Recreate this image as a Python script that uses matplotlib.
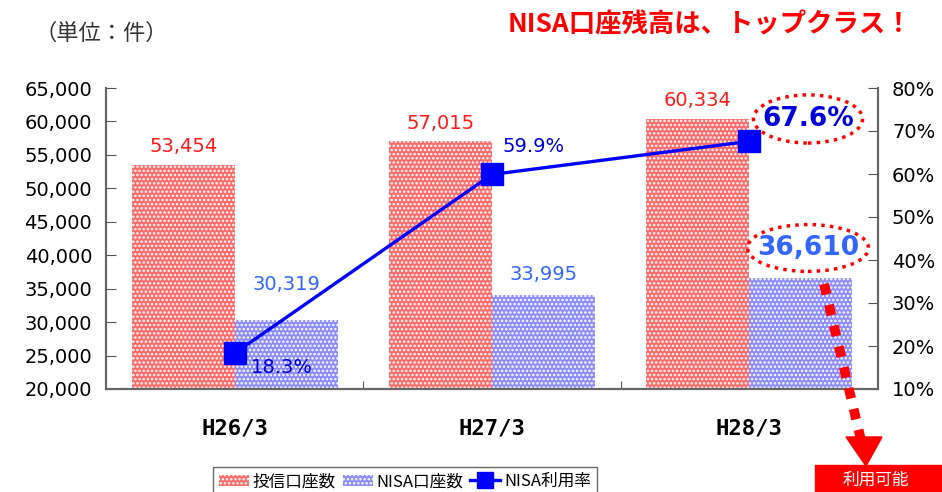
import matplotlib
matplotlib.use("Agg")
import matplotlib.pyplot as plt
import numpy as np
from matplotlib.patches import Ellipse, Rectangle, Polygon, Patch
from matplotlib.lines import Line2D

plt.rcParams['font.family'] = ['Noto Sans CJK JP', 'DejaVu Sans']
plt.rcParams['hatch.linewidth'] = 1.2
plt.rcParams['hatch.color'] = 'white'

categories = ["H26/3", "H27/3", "H28/3"]
toushin = [53454, 57015, 60334]
nisa = [30319, 33995, 36610]
rate = [18.3, 59.9, 67.6]

fig = plt.figure(figsize=(9.42, 4.92), dpi=100)
ax = fig.add_axes([106/942, 1-389/492, (878-106)/942, (389-88)/492])
ax2 = ax.twinx()

x = np.arange(len(categories))
w = 0.4
red = '#FF6B6B'
blue = '#8C8CFF'
ax.bar(x - w/2, toushin, w, color=red, hatch='....', edgecolor='white', linewidth=0, label='投信口座数')
ax.bar(x + w/2, nisa, w, color=blue, hatch='....', edgecolor='white', linewidth=0, label='NISA口座数')

ax.set_ylim(20000, 65000)
ax.set_xlim(-0.5, 2.5)
yt = list(range(20000, 65001, 5000))
ax.set_yticks(yt)
ax.set_yticklabels([f"{v:,}" for v in yt], fontsize=14, family='DejaVu Sans')
ax.set_xticks([0.5, 1.5])
ax.set_xticklabels([])
ax.tick_params(axis='x', direction='in', length=6, color='#555555')
ax.tick_params(axis='y', direction='in', length=7, color='#555555', pad=10)
for i, c in enumerate(categories):
    ax.text(i, 20000 - 45000*0.13, c, ha='center', va='center', fontsize=16, fontweight='bold', family='DejaVu Sans Mono')

ax2.plot(x, rate, color='#0000FF', lw=2.4, marker='s', markersize=16, label='NISA利用率', zorder=5)
ax2.set_ylim(10, 80)
ax2.set_yticks(range(10, 81, 10))
ax2.set_yticklabels([f"{v}%" for v in range(10, 81, 10)], fontsize=14, family='DejaVu Sans')
ax2.tick_params(axis='y', direction='in', length=7, color='#555555', pad=10)

for a in (ax, ax2):
    a.spines['top'].set_visible(False)
    for s in ('left', 'right', 'bottom'):
        a.spines[s].set_color('#666666')
        a.spines[s].set_linewidth(1.5)

lab_red = '#FF1A1A'
lab_blue = '#3366FF'
red_lab_y = [56180, 59620, 63200]
for i in range(3):
    ax.text(i - w/2, red_lab_y[i], f"{toushin[i]:,}", color=lab_red, ha='center', va='center', fontsize=14, family='DejaVu Sans')
blue_lab_y = [35550, 37050]
for i in range(2):
    ax.text(i + w/2, blue_lab_y[i], f"{nisa[i]:,}", color=lab_blue, ha='center', va='center', fontsize=14, family='DejaVu Sans')
ax.text(2.228, 41080, f"{nisa[2]:,}", color=lab_blue, ha='center', va='center', fontsize=19, fontweight='bold', family='DejaVu Sans')
ax.add_patch(Ellipse((2.228, 41080), 0.47, 7000, fill=False, ec='#FF0000', ls=(0, (1, 1.5)), lw=2.5, zorder=6, clip_on=False))

ax2.text(0.184, 14.9, f"{rate[0]}%", color='#0000DD', ha='center', va='center', fontsize=14, family='DejaVu Sans')
ax2.text(1.16, 66.3, f"{rate[1]}%", color='#0000DD', ha='center', va='center', fontsize=14, family='DejaVu Sans')
ax2.text(2.228, 72.7, f"{rate[2]}%", color='#0000DD', ha='center', va='center', fontsize=19, fontweight='bold', family='DejaVu Sans')
ax2.add_patch(Ellipse((2.228, 72.8), 0.424, 11.2, fill=False, ec='#FF0000', ls=(0, (1, 1.5)), lw=2.5, zorder=6, clip_on=False))

# dotted arrow
def fx(px): return px/942
def fy(py): return 1 - py/492
fig.add_artist(Line2D([fx(824), fx(861)], [fy(284), fy(440)], color='#FF0000', lw=7,
                      linestyle=(0, (1.1, 1.1)), dash_capstyle='butt', zorder=10))
fig.add_artist(Polygon([[fx(846), fy(437)], [fx(882), fy(437)], [fx(866), fy(466)]], closed=True,
                       transform=fig.transFigure, color='#FF0000', zorder=10))
fig.add_artist(Rectangle((fx(815), 0), 130/942, 27/492, transform=fig.transFigure, color='#FF0000', zorder=9))
fig.text(fx(843), fy(480), '利用可能', color='white', fontsize=12, va='center', ha='left', zorder=11)

fig.text(fx(35), fy(33), '（単位：件）', fontsize=16, color='#333333', ha='left', va='center')
fig.text(fx(912), fy(25), 'NISA口座残高は、トップクラス！', fontsize=19, color='#FF0000', fontweight='bold', ha='right', va='center')

handles = [Patch(facecolor=red, hatch='....', edgecolor='white', lw=0),
           Patch(facecolor=blue, hatch='....', edgecolor='white', lw=0),
           Line2D([], [], color='#0000FF', lw=2.4, marker='s', markersize=12)]
leg = fig.legend(handles, ['投信口座数', 'NISA口座数', 'NISA利用率'], loc='lower center', bbox_to_anchor=(fx(405), -4/492),
                 ncol=3, fontsize=12, frameon=True, fancybox=False, edgecolor='#444444', handlelength=1.8,
                 columnspacing=0.4, handletextpad=0.25, borderpad=0.35, borderaxespad=0)
leg.get_frame().set_linewidth(1.0)

fig.savefig('out.png', dpi=100)
